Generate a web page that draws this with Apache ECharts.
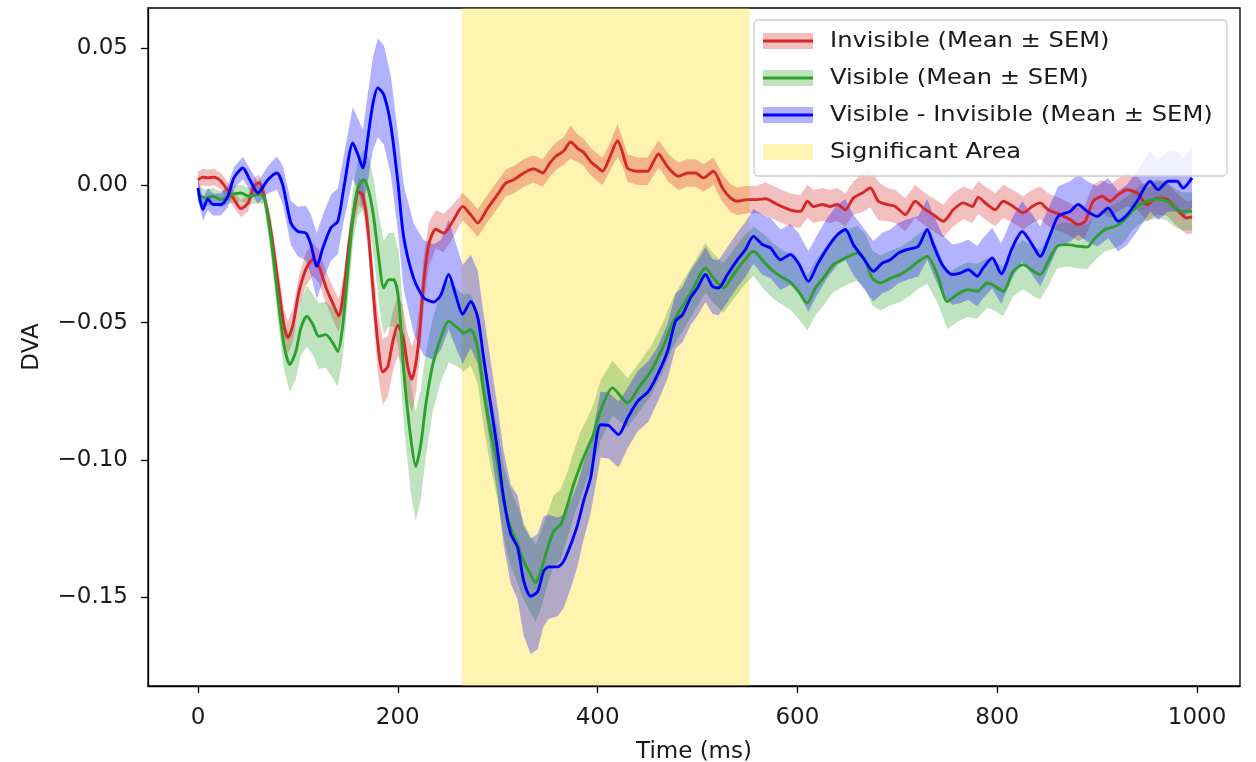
<!DOCTYPE html>
<html>
<head>
<meta charset="utf-8">
<script src="https://cdn.jsdelivr.net/npm/echarts@6/dist/echarts.min.js"></script>
<style>
html,body{margin:0;padding:0;background:#fff;}
#chart{width:1256px;height:762px;}
</style>
</head>
<body>
<div id="chart"></div>
<script>
// [time (ms), mean, SEM]
const invisible = [
[0,0.002,0.003],[5,0.003,0.003],[10,0.0027,0.003],[16,0.003,0.003],[23,0.0015,0.003],[30,-0.002,0.003],[36,-0.005,0.003],[43,-0.0085,0.003],[50,-0.0065,0.003],[56,-0.0005,0.003],[61,0.001,0.003],[66,-0.0035,0.003],[73,-0.0167,0.005],[80,-0.035,0.006],[86,-0.051,0.006],[90,-0.0555,0.006],[95,-0.051,0.006],[101,-0.039,0.006],[108,-0.0306,0.006],[115,-0.027,0.006],[121,-0.0294,0.006],[128,-0.037,0.006],[135,-0.043,0.006],[141,-0.0476,0.006],[146,-0.038,0.006],[151,-0.022,0.005],[156,-0.0098,0.005],[161,-0.0024,0.005],[165,-0.0036,0.005],[170,-0.0155,0.007],[175,-0.037,0.009],[180,-0.0573,0.011],[185,-0.068,0.012],[190,-0.066,0.011],[195,-0.057,0.011],[200,-0.051,0.011],[205,-0.055,0.011],[210,-0.066,0.012],[214,-0.0707,0.012],[218,-0.065,0.011],[222,-0.053,0.01],[226,-0.035,0.009],[231,-0.0216,0.008],[238,-0.016,0.007],[246,-0.0174,0.007],[255,-0.0131,0.006],[265,-0.0077,0.005],[273,-0.0107,0.005],[280,-0.0137,0.005],[290,-0.0083,0.005],[300,-0.0033,0.005],[308,0.0008,0.005],[316,0.002,0.005],[326,0.0045,0.005],[336,0.006,0.005],[345,0.0045,0.005],[352,0.008,0.005],[358,0.0105,0.005],[366,0.0125,0.005],[373,0.0158,0.006],[380,0.0135,0.005],[386,0.012,0.005],[393,0.0087,0.005],[400,0.0065,0.005],[405,0.0051,0.005],[412,0.010,0.005],[420,0.0163,0.006],[425,0.012,0.005],[430,0.0063,0.005],[440,0.0051,0.005],[450,0.0051,0.005],[455,0.008,0.005],[461,0.0114,0.005],[466,0.009,0.005],[471,0.0063,0.005],[481,0.0033,0.005],[490,0.0045,0.005],[498,0.0045,0.005],[506,0.0027,0.005],[516,0.0051,0.005],[525,-0.001,0.005],[533,-0.0046,0.005],[540,-0.0058,0.005],[550,-0.0052,0.005],[560,-0.0052,0.005],[568,-0.0049,0.006],[580,-0.007,0.006],[593,-0.009,0.006],[603,-0.0095,0.006],[610,-0.0058,0.006],[616,-0.0077,0.006],[625,-0.007,0.006],[633,-0.0077,0.006],[640,-0.007,0.006],[648,-0.0089,0.006],[656,-0.0046,0.006],[665,-0.0028,0.007],[673,-0.001,0.007],[681,-0.0058,0.007],[690,-0.007,0.006],[698,-0.0077,0.006],[708,-0.0107,0.006],[718,-0.0058,0.006],[726,-0.0083,0.006],[736,-0.0107,0.006],[746,-0.0131,0.006],[756,-0.0089,0.006],[766,-0.0064,0.006],[775,-0.0077,0.006],[781,-0.0044,0.006],[790,-0.007,0.006],[798,-0.0089,0.006],[806,-0.0058,0.006],[816,-0.0077,0.006],[826,-0.010,0.006],[835,-0.0077,0.006],[843,-0.0064,0.006],[851,-0.0089,0.006],[863,-0.0107,0.006],[873,-0.0125,0.006],[881,-0.0143,0.006],[888,-0.0131,0.006],[896,-0.0058,0.006],[905,-0.004,0.006],[913,-0.0058,0.006],[921,-0.0034,0.006],[930,-0.0016,0.006],[940,-0.0028,0.006],[950,-0.007,0.006],[960,-0.0046,0.006],[970,-0.0052,0.006],[980,-0.0089,0.006],[990,-0.0119,0.006],[995,-0.0115,0.006]
];
const visible = [
[0,-0.0034,0.003],[8,-0.0046,0.003],[15,-0.004,0.003],[23,-0.0052,0.003],[33,-0.0034,0.003],[43,-0.0028,0.003],[51,-0.004,0.003],[60,-0.0034,0.003],[66,-0.004,0.003],[73,-0.0192,0.006],[80,-0.041,0.008],[86,-0.058,0.009],[92,-0.0653,0.01],[98,-0.0605,0.01],[103,-0.052,0.01],[109,-0.0477,0.011],[115,-0.0507,0.011],[121,-0.055,0.012],[128,-0.0544,0.012],[135,-0.0574,0.013],[140,-0.0605,0.013],[145,-0.0507,0.012],[150,-0.0313,0.011],[155,-0.0119,0.01],[160,-0.001,0.01],[166,0.0021,0.011],[171,-0.0022,0.012],[176,-0.0119,0.014],[181,-0.0265,0.016],[186,-0.0374,0.017],[191,-0.0344,0.017],[196,-0.0344,0.017],[201,-0.042,0.018],[206,-0.0678,0.019],[213,-0.092,0.02],[218,-0.1024,0.02],[223,-0.0945,0.02],[228,-0.080,0.019],[235,-0.0653,0.017],[243,-0.0556,0.016],[251,-0.0495,0.015],[260,-0.052,0.014],[266,-0.0538,0.014],[273,-0.0526,0.013],[280,-0.0593,0.013],[286,-0.075,0.013],[293,-0.0896,0.013],[300,-0.1018,0.013],[306,-0.1151,0.013],[313,-0.1248,0.014],[320,-0.1309,0.014],[326,-0.137,0.014],[333,-0.1418,0.014],[338,-0.1449,0.014],[343,-0.1406,0.014],[350,-0.1321,0.013],[356,-0.126,0.013],[363,-0.1236,0.013],[370,-0.1163,0.012],[376,-0.109,0.012],[383,-0.1018,0.012],[390,-0.0957,0.011],[396,-0.0908,0.011],[403,-0.082,0.011],[415,-0.0738,0.01],[430,-0.0793,0.009],[441,-0.0738,0.009],[453,-0.0678,0.009],[465,-0.0593,0.009],[476,-0.0495,0.009],[486,-0.0435,0.009],[496,-0.0374,0.009],[508,-0.0301,0.009],[516,-0.0338,0.009],[526,-0.0374,0.009],[536,-0.0325,0.009],[546,-0.0277,0.009],[556,-0.024,0.009],[566,-0.0277,0.01],[576,-0.0313,0.01],[586,-0.0338,0.01],[593,-0.0353,0.01],[601,-0.0386,0.01],[610,-0.0429,0.01],[618,-0.0374,0.01],[626,-0.0338,0.01],[636,-0.0289,0.01],[648,-0.0265,0.01],[660,-0.0247,0.01],[668,-0.0277,0.01],[675,-0.0338,0.01],[683,-0.0356,0.01],[693,-0.0338,0.01],[703,-0.0325,0.01],[713,-0.0301,0.01],[721,-0.0277,0.01],[730,-0.0259,0.01],[740,-0.0325,0.01],[750,-0.0423,0.01],[760,-0.0398,0.01],[770,-0.038,0.01],[780,-0.0386,0.01],[790,-0.0356,0.009],[798,-0.0368,0.009],[806,-0.0386,0.009],[816,-0.0313,0.009],[826,-0.0289,0.009],[836,-0.0313,0.009],[843,-0.0325,0.009],[851,-0.0277,0.009],[860,-0.0222,0.008],[870,-0.0216,0.008],[881,-0.0222,0.008],[890,-0.0225,0.008],[898,-0.0192,0.008],[908,-0.0161,0.008],[918,-0.0149,0.008],[926,-0.0131,0.008],[935,-0.0095,0.007],[943,-0.007,0.007],[951,-0.0058,0.007],[961,-0.0049,0.007],[970,-0.0058,0.007],[978,-0.0083,0.007],[986,-0.0095,0.007],[995,-0.0095,0.007]
];
const difference = [
[0,-0.001,0.004],[5,-0.0088,0.004],[10,-0.005,0.004],[15,-0.007,0.004],[23,-0.007,0.004],[30,-0.004,0.004],[36,0.0027,0.004],[45,0.0063,0.004],[51,0.0027,0.004],[60,-0.0028,0.004],[70,0.002,0.005],[79,0.0045,0.006],[85,0,0.007],[93,-0.0137,0.008],[100,-0.0168,0.009],[108,-0.0174,0.01],[113,-0.0215,0.011],[119,-0.0295,0.012],[125,-0.0228,0.012],[133,-0.0155,0.012],[140,-0.0131,0.012],[146,-0.001,0.012],[155,0.0154,0.013],[160,0.0113,0.013],[165,0.0063,0.014],[170,0.0172,0.016],[175,0.0295,0.017],[180,0.0355,0.018],[186,0.033,0.018],[193,0.022,0.018],[200,0.0015,0.018],[206,-0.019,0.019],[216,-0.034,0.02],[226,-0.041,0.021],[236,-0.0425,0.021],[243,-0.040,0.02],[251,-0.0325,0.02],[258,-0.040,0.019],[265,-0.047,0.018],[273,-0.0423,0.017],[280,-0.048,0.017],[286,-0.063,0.016],[293,-0.080,0.016],[300,-0.097,0.016],[306,-0.114,0.017],[313,-0.127,0.018],[320,-0.132,0.019],[326,-0.144,0.02],[333,-0.1497,0.021],[340,-0.148,0.021],[346,-0.1406,0.02],[351,-0.139,0.019],[360,-0.139,0.018],[366,-0.137,0.017],[373,-0.131,0.016],[380,-0.1236,0.015],[386,-0.115,0.014],[393,-0.1066,0.013],[403,-0.0872,0.012],[411,-0.0875,0.012],[421,-0.0908,0.012],[430,-0.0848,0.011],[440,-0.0787,0.011],[451,-0.075,0.011],[460,-0.069,0.01],[470,-0.0605,0.01],[478,-0.0495,0.01],[485,-0.0471,0.01],[493,-0.041,0.01],[500,-0.0374,0.01],[508,-0.0325,0.01],[515,-0.0368,0.01],[521,-0.0374,0.01],[530,-0.0325,0.01],[540,-0.0271,0.01],[548,-0.0234,0.01],[556,-0.0186,0.01],[565,-0.0216,0.011],[573,-0.0228,0.011],[583,-0.0271,0.011],[593,-0.0252,0.011],[601,-0.0283,0.011],[611,-0.035,0.011],[620,-0.0289,0.011],[630,-0.0228,0.011],[640,-0.018,0.011],[648,-0.0161,0.011],[656,-0.0216,0.011],[666,-0.0265,0.011],[676,-0.0313,0.011],[685,-0.0283,0.011],[693,-0.0271,0.011],[701,-0.0247,0.011],[710,-0.0234,0.011],[721,-0.0222,0.011],[730,-0.0161,0.011],[736,-0.0216,0.011],[745,-0.0289,0.011],[755,-0.0325,0.011],[763,-0.032,0.011],[771,-0.0307,0.011],[780,-0.0331,0.011],[786,-0.0301,0.011],[795,-0.0265,0.011],[804,-0.0322,0.011],[815,-0.0228,0.011],[825,-0.0168,0.011],[835,-0.0216,0.011],[843,-0.0259,0.011],[853,-0.018,0.011],[861,-0.0113,0.011],[873,-0.0095,0.011],[881,-0.007,0.011],[890,-0.0095,0.011],[900,-0.0113,0.011],[911,-0.0083,0.011],[921,-0.0131,0.011],[930,-0.0107,0.011],[940,-0.0058,0.011],[953,0.0015,0.011],[961,-0.0016,0.011],[971,0.0015,0.011],[980,0.0015,0.011],[986,-0.001,0.011],[995,0.0027,0.011]
];
const significantArea = [264, 552];
const xTicks = [0, 200, 400, 600, 800, 1000];
const yTicks = [-0.15, -0.10, -0.05, 0.00, 0.05];
const legendLabels = ['Invisible (Mean \u00b1 SEM)', 'Visible (Mean \u00b1 SEM)', 'Visible - Invisible (Mean \u00b1 SEM)', 'Significant Area'];

const FONT = 'DejaVu Sans';
const FS = 23;
const LFS = 22;
const groups = [
  {key: 'inv', data: invisible, line: '#d62728', band: 'rgba(214,39,40,0.3)'},
  {key: 'vis', data: visible, line: '#2ca02c', band: 'rgba(44,160,44,0.3)'},
  {key: 'diff', data: difference, line: '#0000ff', band: 'rgba(0,0,255,0.3)'}
];
const yellow = 'rgba(255,215,0,0.3)';

function bandRenderer(rows, fill) {
  return function (params, api) {
    const pts = [];
    for (let i = 0; i < rows.length; i++) pts.push(api.coord([rows[i][0], rows[i][1] + rows[i][2]]));
    for (let i = rows.length - 1; i >= 0; i--) pts.push(api.coord([rows[i][0], rows[i][1] - rows[i][2]]));
    return {type: 'polygon', shape: {points: pts}, style: {fill: fill, stroke: null}};
  };
}

const series = [];
groups.forEach(function (g, gi) {
  series.push({
    type: 'custom', silent: true, renderItem: bandRenderer(g.data, g.band),
    data: [[g.data[0][0], g.data[0][1]]],
    markArea: gi === 0 ? {silent: true, itemStyle: {color: yellow},
      data: [[{xAxis: significantArea[0]}, {xAxis: significantArea[1]}]]} : undefined
  });
  series.push({
    type: 'line', symbol: 'none', silent: true, smooth: 0.25,
    lineStyle: {color: g.line, width: 2.9},
    data: g.data.map(d => [d[0], d[1]])
  });
});

// legend drawn as graphic (matplotlib style handles)
const lgX = 754, lgY = 20, rowY0 = 41, rowStep = 37;
const legendEls = [{
  type: 'rect', shape: {x: lgX, y: lgY, width: 473, height: 156, r: 4},
  style: {fill: 'rgba(255,255,255,0.8)', stroke: '#cccccc', lineWidth: 1.3}, z: 100
}];
legendLabels.forEach(function (lab, i) {
  const cy = rowY0 + i * rowStep;
  const band = i < 3 ? groups[i].band : yellow;
  legendEls.push({type: 'rect', shape: {x: 763, y: cy - 8, width: 50, height: 16},
    style: {fill: band}, z: 101});
  if (i < 3) legendEls.push({type: 'line', shape: {x1: 763, y1: cy, x2: 813, y2: cy},
    style: {stroke: groups[i].line, lineWidth: 2.9}, z: 102});
  legendEls.push({type: 'text', x: 830, y: cy, scaleX: 1.1, z: 102,
    style: {text: lab, font: LFS + 'px "' + FONT + '"', fill: '#1a1a1a', verticalAlign: 'middle', align: 'left'}});
});

const chart = echarts.init(document.getElementById('chart'), null, {renderer: 'canvas'});
chart.setOption({
  animation: false,
  backgroundColor: '#ffffff',
  textStyle: {fontFamily: FONT},
  grid: {left: 148, right: 16, top: 8, bottom: 76, show: true, borderColor: '#000', borderWidth: 1.3,
    backgroundColor: 'transparent', containLabel: false, outerBoundsMode: 'none'},
  xAxis: {
    type: 'value', min: -50, max: 1043,
    name: 'Time (ms)', nameLocation: 'middle', nameGap: 55,
    nameTextStyle: {fontSize: FS, color: '#1a1a1a', fontFamily: FONT},
    axisLine: {show: true, onZero: false, lineStyle: {color: '#000', width: 1.3}},
    axisTick: {show: true, length: 7, lineStyle: {color: '#000', width: 1.3}, customValues: xTicks},
    axisLabel: {fontSize: FS, color: '#1a1a1a', margin: 21, fontFamily: FONT, customValues: xTicks,
      formatter: v => String(v)},
    splitLine: {show: false}
  },
  yAxis: {
    type: 'value', min: -0.1824, max: 0.0646,
    name: 'DVA', nameLocation: 'middle', nameGap: 104, nameRotate: 90,
    nameTextStyle: {fontSize: FS, color: '#1a1a1a', fontFamily: FONT},
    axisLine: {show: true, onZero: false, lineStyle: {color: '#000', width: 1.3}},
    axisTick: {show: true, length: 7, lineStyle: {color: '#000', width: 1.3}, customValues: yTicks},
    axisLabel: {fontSize: FS, color: '#1a1a1a', margin: 20, fontFamily: FONT, customValues: yTicks,
      formatter: v => v.toFixed(2).replace('-', '\u2212')},
    splitLine: {show: false}
  },
  series: series,
  graphic: legendEls
});
</script>
</body>
</html>
